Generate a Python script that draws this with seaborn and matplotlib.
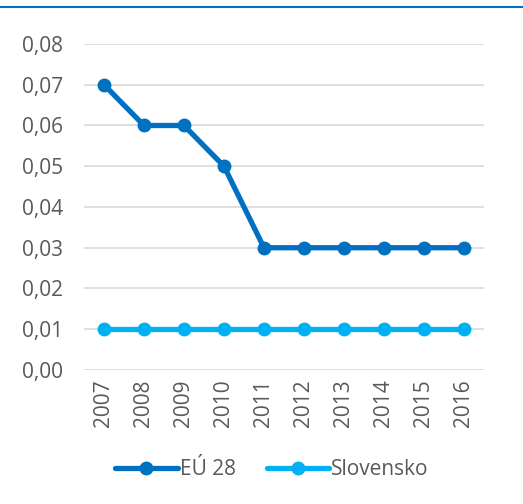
import matplotlib
matplotlib.use("Agg")
import matplotlib.pyplot as plt
import matplotlib.lines as mlines
import numpy as np
import pandas as pd
import seaborn as sns
from matplotlib.ticker import FuncFormatter

years = [2007, 2008, 2009, 2010, 2011, 2012, 2013, 2014, 2015, 2016]
eu28 = [0.07, 0.06, 0.06, 0.05, 0.03, 0.03, 0.03, 0.03, 0.03, 0.03]
slovensko = [0.01, 0.01, 0.01, 0.01, 0.01, 0.01, 0.01, 0.01, 0.01, 0.01]
series_names = ["EÚ 28", "Slovensko"]
colors = ["#0070C0", "#00B0F0"]

df = pd.DataFrame({
    "rok": years * 2,
    "hodnota": eu28 + slovensko,
    "séria": [series_names[0]] * len(years) + [series_names[1]] * len(years),
})

sns.set_style("white")
plt.rcParams["font.family"] = ["Open Sans", "DejaVu Sans"]
text_color = "#595959"

fig = plt.figure(figsize=(5.23, 5.04), dpi=100)
ax = fig.add_axes([0.1606, 0.2659, 0.7648, 0.6468])

sns.lineplot(
    data=df, x="rok", y="hodnota", hue="séria", palette=colors,
    marker="o", markersize=10, markeredgewidth=0, linewidth=3.8,
    ax=ax, legend=False, sort=False,
)

ax.set_xlim(2006.5, 2016.5)
ax.set_ylim(0, 0.08)
ax.set_yticks(np.arange(0, 0.0801, 0.01))
ax.yaxis.set_major_formatter(FuncFormatter(lambda v, p: f"{v:.2f}".replace(".", ",")))
ax.set_xticks(years)
ax.set_xticklabels([str(y) for y in years], rotation=90)
ax.grid(axis="y", color="#D9D9D9", linewidth=1.2)
ax.set_axisbelow(True)
for s in ax.spines.values():
    s.set_visible(False)
ax.tick_params(axis="both", length=0, labelsize=15, labelcolor=text_color)
ax.tick_params(axis="y", pad=15)
ax.tick_params(axis="x", pad=7)
ax.set_xlabel("")
ax.set_ylabel("")

handles = [
    mlines.Line2D([], [], color=c, linewidth=3.8, marker="o", markersize=10, markeredgewidth=0)
    for c in colors
]
fig.legend(
    handles, series_names, loc="center", bbox_to_anchor=(0.52, 0.068), ncol=2,
    frameon=False, handlelength=3.0, handletextpad=0.1, columnspacing=1.5,
    fontsize=15, labelcolor=text_color,
)

fig.add_artist(mlines.Line2D([0, 1], [0.986, 0.986], transform=fig.transFigure,
                             color="#0070C0", linewidth=1.5))

fig.savefig("out.png", dpi=100)
